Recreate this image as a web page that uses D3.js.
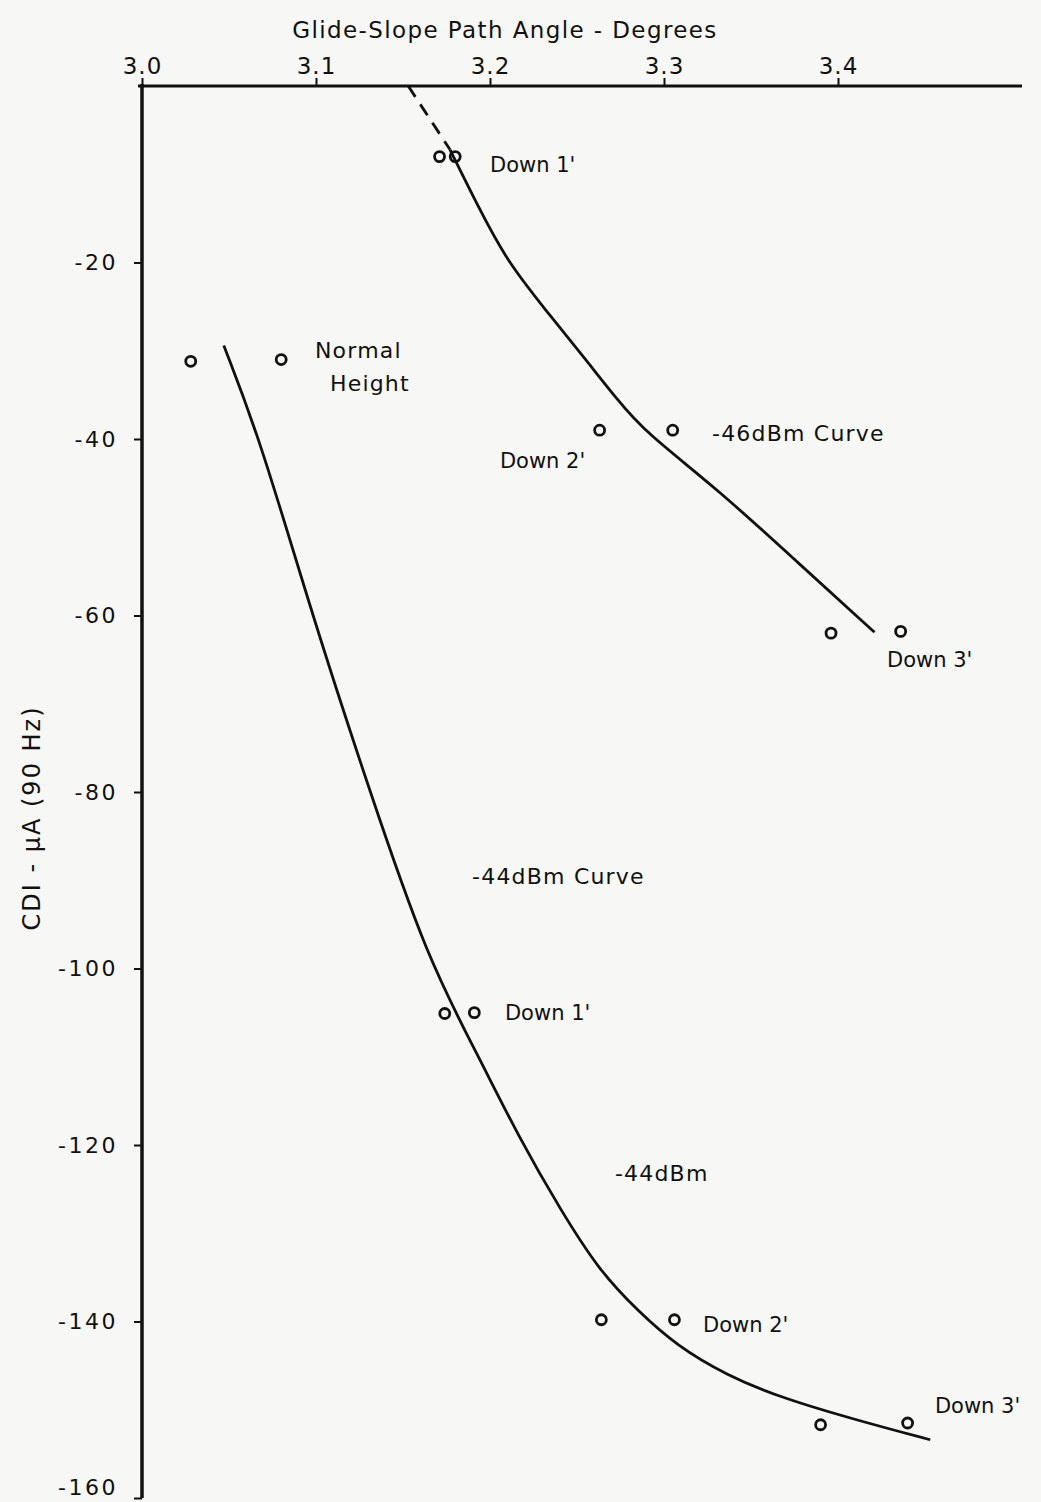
<!DOCTYPE html>
<html>
<head>
<meta charset="utf-8">
<script src="https://cdn.jsdelivr.net/npm/d3@7.9.0/dist/d3.min.js"></script>
<style>
  html, body { margin: 0; padding: 0; background: #f7f7f5; }
  svg { display: block; }
  text { font-family: "DejaVu Sans", sans-serif; fill: #111; }
</style>
</head>
<body>
<svg id="chart" width="1041" height="1502"></svg>
<script>
// ---- Data ----
const xTicks = [3.0, 3.1, 3.2, 3.3, 3.4];
const xTickLabels = ['3.0', '3.1', '3.2', '3.3', '3.4'];
const yTicks = [-20, -40, -60, -80, -100, -120, -140, -160];
const yTickLabels = ['-20', '-40', '-60', '-80', '-100', '-120', '-140', '-160'];

// -46 dBm curve: measured points and hand-drawn curve
const pts46X = [3.171, 3.180, 3.263, 3.305, 3.396, 3.436];
const pts46Y = [-8, -8, -39, -39, -62, -61.8];
const dash46X = [3.153, 3.177];
const dash46Y = [0, -7.2];
const curve46X = [3.177, 3.194, 3.210, 3.232, 3.255, 3.273, 3.289, 3.331, 3.378, 3.421];
const curve46Y = [-7.2, -14.0, -19.9, -25.4, -31.0, -35.5, -39.2, -45.7, -54.2, -61.9];

// -44 dBm curve
const pts44X = [3.028, 3.080, 3.174, 3.191, 3.264, 3.306, 3.390, 3.440];
const pts44Y = [-31.2, -31, -105.1, -105, -139.8, -139.8, -151.7, -151.5];
const curve44X = [3.047, 3.068, 3.098, 3.131, 3.164, 3.193, 3.217, 3.241, 3.263, 3.285,
                  3.307, 3.336, 3.368, 3.413, 3.453];
const curve44Y = [-29.4, -40.1, -60.1, -80.0, -98.9, -109.8, -119.3, -127.5, -134.3, -138.8,
                  -142.7, -146.1, -148.7, -151.3, -153.4];

// annotations
const noteText = ["Down 1'", 'Normal', 'Height', '-46dBm Curve', "Down 2'", "Down 3'",
                  '-44dBm Curve', "Down 1'", '-44dBm', "Down 2'", "Down 3'"];
const noteX = [3.200, 3.0994, 3.108, 3.3276, 3.2057, 3.4282, 3.1897, 3.2086, 3.2718, 3.3224, 3.4557];
const noteY = [-9.05, -30.1, -33.9, -39.5, -42.6, -65.2, -89.8, -105.2, -123.4, -140.5, -149.7];

// ---- Scales ----
const svg = d3.select('#chart');
const x = d3.scaleLinear().domain([3.0, 3.4]).range([142, 838]);
const y = d3.scaleLinear().domain([0, -160]).range([86, 1498]);
const xEnd = 1022;

const zip = (xs, ys) => xs.map((v, i) => [v, ys[i]]);
const line = d3.line().x(d => x(d[0])).y(d => y(d[1])).curve(d3.curveBasis);

// ---- Axes ----
const xAxis = svg.append('g').attr('transform', `translate(0,${y(0)})`)
  .call(d3.axisTop(x).tickValues(xTicks).tickFormat((d, i) => xTickLabels[i]).tickSize(8).tickPadding(4));
xAxis.select('.domain').remove();
xAxis.append('line').attr('x1', x(3.0) - 4).attr('x2', xEnd).attr('stroke', '#111').attr('stroke-width', 3);
xAxis.selectAll('.tick line').attr('stroke', '#111').attr('stroke-width', 2);
xAxis.selectAll('.tick text').attr('font-size', 23).attr('fill', '#111')
  .style('letter-spacing', '1px').style('font-family', '"DejaVu Sans", sans-serif');

const yAxis = svg.append('g').attr('transform', `translate(${x(3.0)},0)`)
  .call(d3.axisLeft(y).tickValues(yTicks).tickFormat((d, i) => yTickLabels[i]).tickSize(8).tickPadding(16));
yAxis.select('.domain').remove();
yAxis.append('line').attr('y1', y(0) - 2).attr('y2', y(-160)).attr('stroke', '#111').attr('stroke-width', 3.5);
yAxis.selectAll('.tick line').attr('stroke', '#111').attr('stroke-width', 2);
yAxis.selectAll('.tick text').attr('font-size', 22).attr('fill', '#111')
  .style('letter-spacing', '2.5px').style('font-family', '"DejaVu Sans", sans-serif');
// the bottom label sits a little above its tick so it stays on the page
yAxis.selectAll('.tick text').filter(d => d === -160).attr('y', -11);

// axis titles
svg.append('text').attr('x', 505).attr('y', 38).attr('text-anchor', 'middle')
  .attr('font-size', 23).style('letter-spacing', '1.4px').text('Glide-Slope Path Angle - Degrees');
svg.append('text').attr('transform', 'translate(40,818) rotate(-90)').attr('text-anchor', 'middle')
  .attr('font-size', 24).style('letter-spacing', '2px').text('CDI - \u00b5A (90 Hz)');

// ---- Curves ----
svg.append('path').attr('d', d3.line().x(d => x(d[0])).y(d => y(d[1]))(zip(dash46X, dash46Y)))
  .attr('fill', 'none').attr('stroke', '#111').attr('stroke-width', 2.8).attr('stroke-dasharray', '13,9');
svg.append('path').attr('d', line(zip(curve46X, curve46Y)))
  .attr('fill', 'none').attr('stroke', '#111').attr('stroke-width', 2.8);
svg.append('path').attr('d', line(zip(curve44X, curve44Y)))
  .attr('fill', 'none').attr('stroke', '#111').attr('stroke-width', 2.8);

// ---- Points ----
svg.append('g').selectAll('circle')
  .data(zip(pts46X, pts46Y).concat(zip(pts44X, pts44Y)))
  .join('circle')
  .attr('cx', d => x(d[0])).attr('cy', d => y(d[1])).attr('r', 5)
  .attr('fill', 'none').attr('stroke', '#111').attr('stroke-width', 2.8);

// ---- Annotations ----
svg.append('g').selectAll('text')
  .data(noteText)
  .join('text')
  .attr('x', (d, i) => x(noteX[i])).attr('y', (d, i) => y(noteY[i]))
  .attr('dominant-baseline', 'middle')
  .attr('font-size', d => d.startsWith('Down') ? 21 : 22)
  .style('letter-spacing', d => d.startsWith('Down') ? '0px' : '1.2px')
  .text(d => d);
</script>
</body>
</html>
